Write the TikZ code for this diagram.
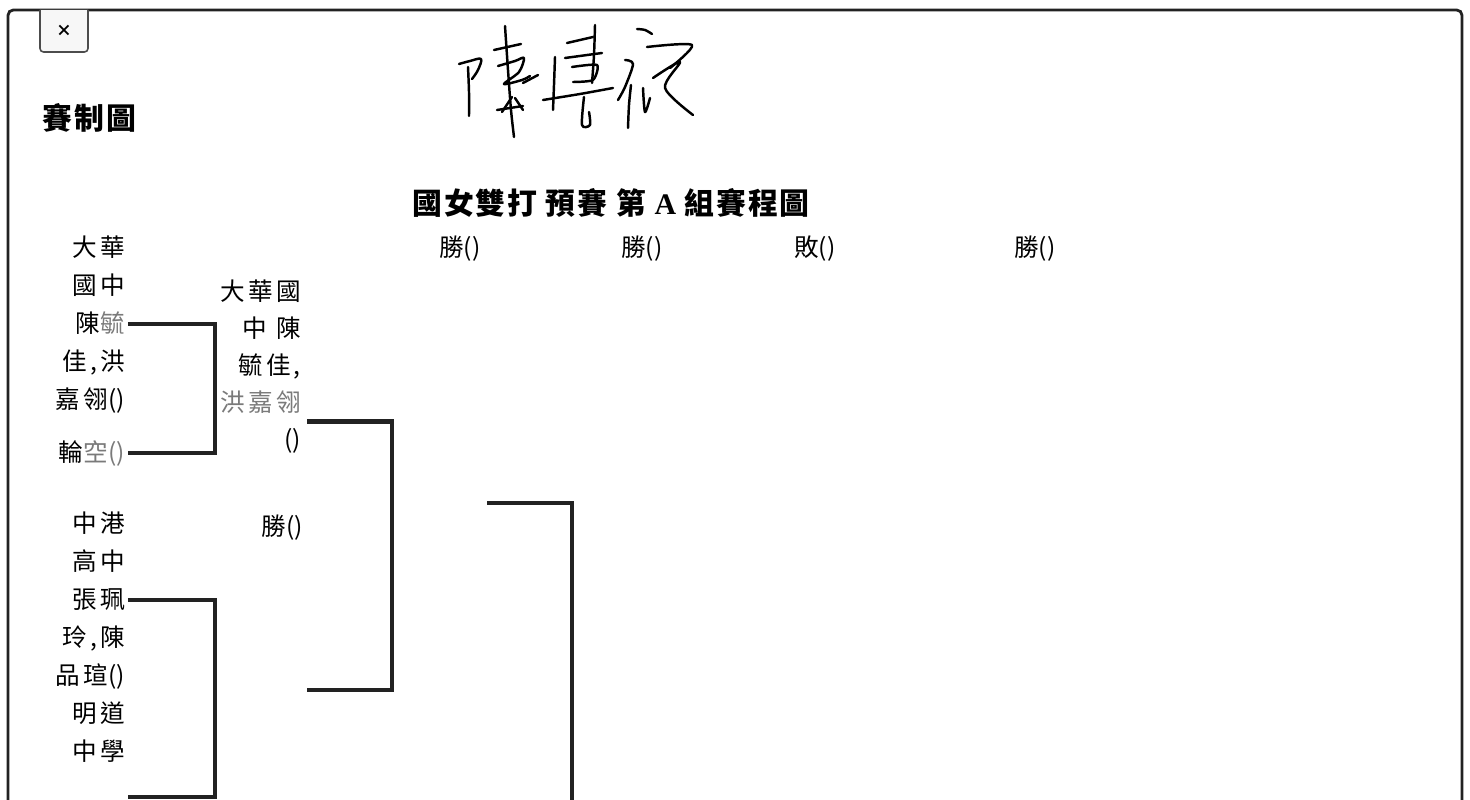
\documentclass[tikz,border=0pt]{standalone}
\usepackage{fontspec}
\setmainfont{Noto Sans CJK TC}
\newfontfamily\cjk[LetterSpace=12]{Noto Sans CJK TC}
\newfontfamily\headfont[LetterSpace=8]{Noto Sans CJK TC}
\newfontfamily\titlefont[LetterSpace=6]{Noto Sans CJK TC}
\newfontfamily\plainfont{Noto Sans CJK TC}
\newfontfamily\timesfont{Liberation Serif}
\newcommand\emptyp{{\plainfont()}}
\usetikzlibrary{calc}
\definecolor{ink}{HTML}{222222}
\definecolor{faded}{HTML}{7A7A7A}
\tikzset{
  entry/.style={anchor=east, inner sep=0pt, font=\cjk\fontsize{14}{16}\selectfont,
    text height=12pt, text depth=2pt},
  roundlbl/.style={entry, anchor=center},
  bracket/.style={line width=2.3pt, draw=ink, line join=miter},
  sig/.style={line width=1.4pt, line cap=round, line join=round},
}

\begin{document}
\begin{tikzpicture}[x=0.02cm, y=-0.02cm]
\useasboundingbox (0,0) rectangle (1470,800);

% window frame and close button
\draw[ink, line width=1.6pt, rounded corners=3pt] (8,800) -- (8,10) -- (1462,10) -- (1462,800);
\draw[draw=black!70, fill=black!3, line width=0.9pt, rounded corners=2pt] (40,10) -- (40,52) -- (88,52) -- (88,10);
\node[font=\bfseries\fontsize{9}{9}\selectfont] (close) at (64,31) {×};

\node[anchor=west, inner sep=0pt, font=\headfont\bfseries\fontsize{17}{19}\selectfont] (hd) at (42,118) {賽制圖};

% signature
\draw[sig] plot[smooth, tension=.6] coordinates {(459,64) (470,61) (481,59) (478,70) (472,79)};
\draw[sig] plot[smooth] coordinates {(468,67) (469,92) (469,116)};
\draw[sig] plot[smooth] coordinates {(505,26) (508,70) (511,110) (514,137)};
\draw[sig] (494,50) -- (521,44);
\draw[sig] plot[smooth, tension=.5] coordinates {(498,66) (515,61) (524,58) (519,72) (504,84) (522,80) (530,76)};
\draw[sig] (497,110) -- (523,106);
\draw[sig] (512,97) -- (502,112);
\draw[sig] (515,98) -- (523,110);
\draw[sig] (523,83) -- (538,75);
\draw[sig] plot[smooth] coordinates {(555,57) (554,85) (553,110)};
\draw[sig] (567,43) -- (593,37);
\draw[sig] plot[smooth] coordinates {(595,25) (594,55) (592,83)};
\draw[sig] (565,58) -- (602,53);
\draw[sig] plot[smooth, tension=.4] coordinates {(572,67) (597,65) (593,80) (573,82)};
\draw[sig] plot[smooth] coordinates {(543,100) (580,94) (613,88)};
\draw[sig] plot[smooth, tension=.5] coordinates {(584,97) (582,125) (590,125) (589,112)};
\draw[sig] plot[smooth] coordinates {(637,29) (645,30) (652,34)};
\draw[sig] plot[smooth, tension=.5] coordinates {(625,60) (633,64) (625,87) (618,100)};
\draw[sig] plot[smooth] coordinates {(631,85) (629,105) (628,128)};
\draw[sig] plot[smooth, tension=.5] coordinates {(643,88) (645,112) (650,98)};
\draw[sig] plot[smooth, tension=.5] coordinates {(647,47) (692,45) (670,68)};
\draw[sig] plot[smooth, tension=.5] coordinates {(653,78) (680,62) (665,88) (693,115)};

% title and round labels
\node[font=\titlefont\bfseries\fontsize{17}{19}\selectfont] (ttl) at (611,203)
  {國女雙打 預賽 第 {\timesfont\bfseries A} 組賽程圖};
\foreach \x/\t [count=\i] in {460/勝,642/勝,815/敗,1035/勝}
  \node[roundlbl] (top\i) at (\x,248) {\t\emptyp};

% first round
\foreach \t [count=\i] in {大華,國中,陳{\color{faded}毓},{佳,洪},嘉翎\emptyp}
  \node[entry] (a\i) at (125,210+38*\i) {\t};
\node[entry] (bye) at (125,453) {輪{\color{faded}空\emptyp}};
\foreach \t [count=\i] in {中港,高中,張珮,{玲,陳},品瑄\emptyp}
  \node[entry] (c\i) at (125,486+38*\i) {\t};
\foreach \t [count=\i] in {明道,中學}
  \node[entry] (d\i) at (125,676+38*\i) {\t};

% second round
\foreach \t [count=\i] in {大華國,中 陳,{毓佳,},{\color{faded}洪嘉翎},\emptyp}
  \node[entry] (b\i) at (301,255+37*\i) {\t};
\node[entry] (w1) at (303,527) {勝\emptyp};

% brackets
\coordinate (j1) at (215,390);
\draw[bracket] ([xshift=1.7pt]a3.east) -| (j1) |- ([xshift=1.7pt]bye.east);
\coordinate (j2) at (392,556);
\coordinate (w2) at (307,690);
\draw[bracket] ($($(b4.east)!.5!(b5.east)$)+(6,0)$) -| (j2) |- (w2);
\coordinate (s3) at (487,503);
\coordinate (j3) at (572,800);
\draw[bracket] (s3) -| (j3);
\coordinate (j4) at (215,700);
\coordinate (e4) at (128,797);
\draw[bracket] ([xshift=1.7pt]c3.east) -| (j4) |- (e4);
\end{tikzpicture}
\end{document}
